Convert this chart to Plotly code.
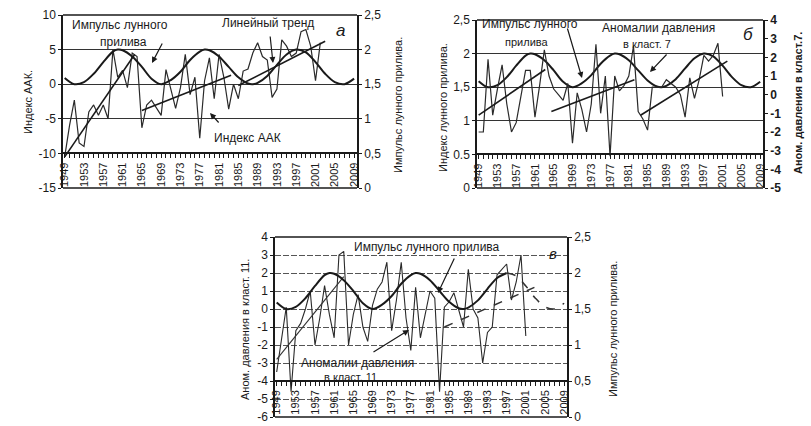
import plotly.graph_objects as go

# ---------------- data ----------------
years_aak = list(range(1949, 2003))
aak = [-10.5, -6.0, -2.3, -8.5, -9.0, -4.0, -3.0, -4.5, -3.0, -5.0,
       5.0, 1.0, 2.0, -0.5, 4.5, 4.0, -6.3, -3.0, -2.3, -3.5,
       -4.5, 2.1, -0.5, -3.5, -0.5, 4.3, -1.5, 1.0, -7.8, 0.5,
       3.8, -2.1, 4.3, 1.0, -3.6, 0.0, -2.1, 1.9, 2.2, 4.5,
       6.0, 4.0, 3.5, -1.9, -0.7, 6.4, 5.5, 4.0, 4.5, 7.6,
       7.9, 5.5, 0.5, 6.0]

years_cl = list(range(1949, 2002))
cl7 = [-2.0, -2.0, 1.9, -1.1, 0.3, 1.6, -0.5, -2.0, -1.5, 0.0,
       1.3, 1.3, -1.2, 0.5, 2.4, 1.0, 0.3, 0.0, -0.3, 0.6,
       -2.6, 0.1, -0.8, -2.0, -0.5, 2.7, -1.0, 1.0, -3.3, 1.0,
       0.2, 0.5, 1.0, 2.6, -0.9, -1.3, -1.9, 0.4, 0.4, 0.4,
       0.8, 0.6, 0.4, 0.0, -1.2, 0.9, -0.2, 0.8, 2.1, 1.8,
       2.1, 2.75, -0.1]
cl11 = [-3.5, -1.7, 0.1, -4.6, -1.2, -0.8, 0.0, 1.0, -2.0, -0.5,
        1.3, -0.3, -1.6, 3.0, 3.2, -2.0, -0.3, 0.8, -1.0, -1.8,
        0.2, 1.1, 1.5, 2.6, -1.2, 0.5, 2.6, -0.5, -2.3, 1.2,
        -1.6, -0.3, 1.0, 0.6, -4.6, 0.1, 0.4, 0.9, 0.0, -1.0,
        2.2, 0.0, -0.5, -3.0, -1.3, -1.0, 1.9, 2.2, 2.5, 0.5,
        1.5, 3.0, -1.5]

lunar_years = [1949, 1951, 1953, 1955, 1957, 1959, 1960, 1961, 1963, 1965, 1967,
               1969, 1971, 1973, 1975, 1977, 1978, 1979, 1981, 1983, 1985, 1987,
               1988, 1989, 1991, 1993, 1995, 1997, 1999, 2001, 2003, 2005, 2007, 2009]
lunar_vals = [1.59, 1.50, 1.53, 1.65, 1.82, 1.97, 2.00, 1.99, 1.90, 1.75, 1.58,
              1.50, 1.56, 1.68, 1.85, 1.97, 2.00, 1.99, 1.90, 1.75, 1.60, 1.51,
              1.50, 1.52, 1.62, 1.78, 1.93, 2.00, 1.96, 1.82, 1.65, 1.53, 1.50, 1.58]

trend_a_x = [1949, 1963.5, None, 1965, 1983.5, None, 1985, 2003]
trend_a_y = [-10.5, 4.3, None, -3.8, 1.3, None, -0.2, 6.2]
trend_b_x = [1949, 1963.2, None, 1964.5, 1982.2, None, 1983.5, 2002]
trend_b_y = [-1.1, 1.35, None, -0.9, 0.8, None, -1.1, 1.8]
trend_c1_x = [1949, 1963]
trend_c1_y = [-2.8, 1.8]
trend_c2_x = [1984, 2002.8]
trend_c2_y = [-1.0, 1.2]

year_ticks = list(range(1949, 2010, 4))
year_labels = [str(y) for y in year_ticks]
lunar_ticks = [0, 0.5, 1, 1.5, 2, 2.5]
lunar_labels_comma = ["0", "0,5", "1", "1,5", "2", "2,5"]
lunar_labels_b = ["0", "0.5", "1", "1,5", "2", "2,5"]
aak_ticks = [-15, -10, -5, 0, 5, 10]
cl7_ticks = [-5, -4, -3, -2, -1, 0, 1, 2, 3, 4]
cl11_ticks = [-6, -5, -4, -3, -2, -1, 0, 1, 2, 3, 4]

# ---------------- figure ----------------
W, H = 811, 426
FONT = "Arial, Liberation Sans, sans-serif"
INK = "#1a1a1a"

def px(x):
    return x / W

def py(y):
    return 1 - y / H

fig = go.Figure()

# panel a
fig.add_trace(go.Scatter(x=lunar_years, y=lunar_vals, xaxis="x", yaxis="y2", mode="lines",
                         line=dict(color=INK, width=2, shape="spline", smoothing=0.9)))
fig.add_trace(go.Scatter(x=years_aak, y=aak, xaxis="x", yaxis="y", mode="lines",
                         line=dict(color="#2a2a2a", width=1.2)))
fig.add_trace(go.Scatter(x=trend_a_x, y=trend_a_y, xaxis="x", yaxis="y", mode="lines",
                         line=dict(color=INK, width=1.6)))
# panel б
fig.add_trace(go.Scatter(x=lunar_years, y=lunar_vals, xaxis="x2", yaxis="y3", mode="lines",
                         line=dict(color=INK, width=2, shape="spline", smoothing=0.9)))
fig.add_trace(go.Scatter(x=years_cl, y=cl7, xaxis="x2", yaxis="y4", mode="lines",
                         line=dict(color="#2a2a2a", width=1.2)))
fig.add_trace(go.Scatter(x=trend_b_x, y=trend_b_y, xaxis="x2", yaxis="y4", mode="lines",
                         line=dict(color=INK, width=1.6)))
# panel в
fig.add_trace(go.Scatter(x=lunar_years[:28], y=lunar_vals[:28], xaxis="x3", yaxis="y6", mode="lines",
                         line=dict(color=INK, width=2, shape="spline", smoothing=0.9)))
fig.add_trace(go.Scatter(x=lunar_years[27:], y=lunar_vals[27:], xaxis="x3", yaxis="y6", mode="lines",
                         line=dict(color="#333", width=1.5, shape="spline", smoothing=0.9, dash="dash")))
fig.add_trace(go.Scatter(x=years_cl, y=cl11, xaxis="x3", yaxis="y5", mode="lines",
                         line=dict(color="#2a2a2a", width=1.1)))
fig.add_trace(go.Scatter(x=trend_c1_x, y=trend_c1_y, xaxis="x3", yaxis="y5", mode="lines",
                         line=dict(color="#333", width=1.1)))
fig.add_trace(go.Scatter(x=trend_c2_x, y=trend_c2_y, xaxis="x3", yaxis="y5", mode="lines",
                         line=dict(color="#333", width=1.5, dash="dash")))

# domains
dom_a_x = [px(63), px(357)]
dom_a_y = [py(188), py(15)]
dom_b_x = [px(477), px(763)]
dom_b_y = [py(188), py(20)]
dom_c_x = [px(275), px(567)]
dom_c_y = [py(417), py(237)]

def xax(dom, ydom):
    pos = ydom[0] + 0.2 * (ydom[1] - ydom[0])
    return dict(domain=dom, range=[1948.65, 2009.6], anchor="free", position=pos,
                automargin=False,
                showline=True, linecolor=INK, linewidth=1.5,
                tickmode="array", tickvals=year_ticks, ticktext=year_labels,
                tickangle=-90, ticks="outside", ticklen=4, tickcolor=INK,
                tickfont=dict(family=FONT, size=11, color=INK),
                minor=dict(dtick=1, tick0=1949, ticks="outside", ticklen=4, tickcolor=INK, showgrid=False),
                showgrid=False, zeroline=False, fixedrange=True)

def yleft(dom, anchor, rng, tv, tt, gridcolor="#333", griddash="solid"):
    return dict(domain=dom, anchor=anchor, range=rng, side="left", automargin=False,
                tickmode="array", tickvals=tv, ticktext=tt,
                showline=True, linecolor=INK, linewidth=1.5,
                ticks="outside", ticklen=3, tickcolor=INK,
                tickfont=dict(family=FONT, size=12, color=INK),
                showgrid=True, gridcolor=gridcolor, gridwidth=1, griddash=griddash,
                zeroline=False)

def yright(overlay, anchor, rng, tv, tt, bold=False):
    return dict(overlaying=overlay, anchor=anchor, range=rng, side="right", automargin=False,
                tickmode="array", tickvals=tv, ticktext=tt,
                showline=True, linecolor=INK, linewidth=1.5,
                ticks="outside", ticklen=3, tickcolor=INK,
                tickfont=dict(family=FONT, size=12, color=INK, weight="bold" if bold else "normal"),
                showgrid=False, zeroline=False)

fig.update_layout(
    template="none",
    width=W, height=H, margin=dict(l=0, r=0, t=0, b=0, autoexpand=False),
    paper_bgcolor="white", plot_bgcolor="white", showlegend=False,
    xaxis=xax(dom_a_x, dom_a_y),
    yaxis=yleft(dom_a_y, "x", [-15, 10], aak_ticks, [str(v) for v in aak_ticks]),
    yaxis2=yright("y", "x", [0, 2.5], lunar_ticks, lunar_labels_comma),
    xaxis2=xax(dom_b_x, dom_b_y),
    yaxis3=yleft(dom_b_y, "x2", [0, 2.5], lunar_ticks, lunar_labels_b),
    yaxis4=yright("y3", "x2", [-5, 4], cl7_ticks, [str(v) for v in cl7_ticks], bold=True),
    xaxis3=xax(dom_c_x, dom_c_y),
    yaxis5=yleft(dom_c_y, "x3", [-6, 4], cl11_ticks, [str(v) for v in cl11_ticks],
                 gridcolor="#555", griddash="6px,2px"),
    yaxis6=yright("y5", "x3", [0, 2.5], lunar_ticks, lunar_labels_comma),
)

# top and bottom frame lines of each panel
for xr, yr in (("x", "y"), ("x2", "y3"), ("x3", "y5")):
    for yv in (0, 1):
        fig.add_shape(type="line", xref=xr + " domain", yref=yr + " domain",
                      x0=0, x1=1, y0=yv, y1=yv, line=dict(color=INK, width=1.3))

def txt(x, y, s, size=12, angle=0, italic=False, bold=False):
    s2 = s
    if italic:
        s2 = "<i>" + s2 + "</i>"
    if bold:
        s2 = "<b>" + s2 + "</b>"
    fig.add_annotation(x=px(x), y=py(y), xref="paper", yref="paper", text=s2, showarrow=False,
                       textangle=angle, font=dict(family=FONT, size=size, color=INK),
                       xanchor="center", yanchor="middle", bgcolor="rgba(0,0,0,0)")

def arrow(x0, y0, x1, y1):
    fig.add_annotation(x=px(x1), y=py(y1), xref="paper", yref="paper", text="",
                       showarrow=True, ax=x0 - x1, ay=y0 - y1, arrowhead=2, arrowsize=1,
                       arrowwidth=1.2, arrowcolor=INK)

# axis titles
txt(28, 102, "Индекс ААК.", 11, -90)
txt(398, 105, "Импульс лунного прилива.", 11, -90)
txt(443, 108, "Индекс лунного прилива.", 11, -90)
txt(798, 103, "Аном. давления в класт.7.", 11, -90, bold=True)
txt(245, 330, "Аном. давления в класт. 11.", 11, -90)
txt(613, 329, "Импульс лунного прилива.", 11, -90)

# panel a labels
txt(120, 25, "Импульс лунного", 12)
txt(123, 42, "прилива", 12)
arrow(163, 42, 152, 63)
txt(268, 23, "Линейный тренд", 12)
arrow(270, 35, 273, 63)
txt(340, 30, "а", 17, italic=True)
txt(247, 138, "Индекс ААК", 12)
arrow(220, 124, 210, 113)

# panel б labels
txt(530, 24, "Импульс лунного", 12)
txt(527, 42, "прилива", 11)
arrow(567, 27, 582, 78)
txt(658, 28, "Аномалии давления", 12)
txt(647, 44, "в класт. 7", 11)
arrow(668, 53, 650, 72)
txt(748, 35, "б", 17, italic=True)

# panel в labels
txt(427, 247, "Импульс лунного прилива", 12)
arrow(455, 257, 438, 293)
txt(553, 253, "в", 15, italic=True)
txt(357, 363, "Аномалии давления", 12)
txt(350, 377, "в класт. 11", 11)
arrow(372, 353, 409, 330)

fig.write_html("out.html", config={"displayModeBar": False},
               post_script="document.body.style.margin='0';document.body.style.overflow='hidden';")
